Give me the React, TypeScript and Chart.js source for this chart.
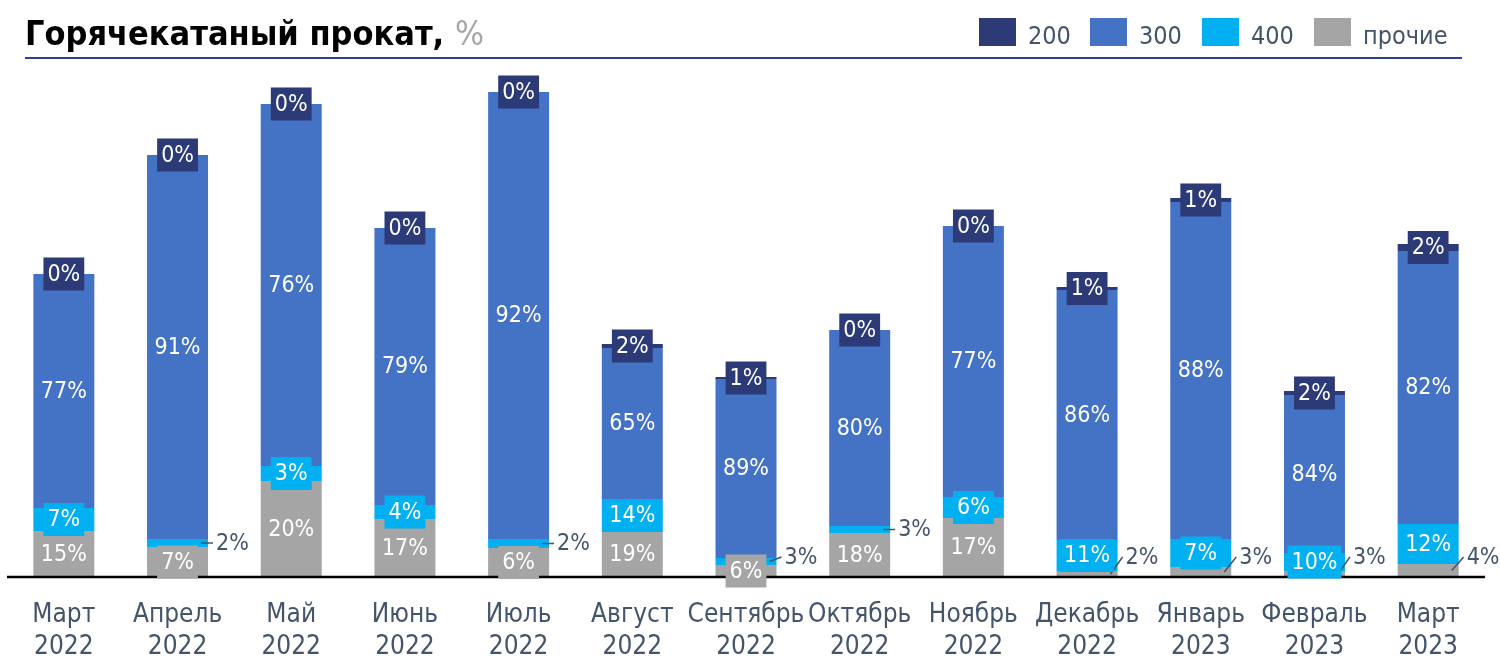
import React, { useEffect, useRef } from 'react';
import { Chart, registerables } from 'chart.js';

Chart.register(...registerables);

// ---- data ----
const months = ['Март', 'Апрель', 'Май', 'Июнь', 'Июль', 'Август', 'Сентябрь', 'Октябрь', 'Ноябрь', 'Декабрь', 'Январь', 'Февраль', 'Март'];
const years = ['2022', '2022', '2022', '2022', '2022', '2022', '2022', '2022', '2022', '2022', '2023', '2023', '2023'];

const seriesNames = ['прочие', '400', '300', '200'];

// stacked volumes (bar heights)
const valOther = [46, 30, 96, 58, 29, 45, 12, 44, 59, 6, 10, 6, 13];
const val400 = [23, 8, 15, 14, 9, 33, 7, 7, 21, 31, 28, 18, 40];
const val300 = [234, 384, 362, 277, 447, 151, 179, 196, 271, 250, 337, 158, 273];
const val200 = [0, 0, 0, 0, 0, 4, 2, 0, 0, 3, 4, 4, 7];

// shares shown in labels, %
const pctOther = [15, 7, 20, 17, 6, 19, 6, 18, 17, 2, 3, 3, 4];
const pct400 = [7, 2, 3, 4, 2, 14, 3, 3, 6, 11, 7, 10, 12];
const pct300 = [77, 91, 76, 79, 92, 65, 89, 80, 77, 86, 88, 84, 82];
const pct200 = [0, 0, 0, 0, 0, 2, 1, 0, 0, 1, 1, 2, 2];

const titleText = 'Горячекатаный прокат, ';
const titleUnit = '%';

// ---- style ----
const FONT = '"DejaVu Sans Condensed", "DejaVu Sans", sans-serif';
const TEXT = '#44546A';
const C200 = '#2C3A78';
const C300 = '#4472C4';
const C400 = '#00B0F0';
const COTHER = '#A5A5A5';

const seriesValues = [valOther, val400, val300, val200];
const seriesPcts = [pctOther, pct400, pct300, pct200];
const seriesColors = [COTHER, C400, C300, C200];

const legendItems = [
  { name: '200', color: C200, x: 979 },
  { name: '300', color: C300, x: 1090 },
  { name: '400', color: C400, x: 1202 },
  { name: 'прочие', color: COTHER, x: 1314 },
];

const labelPlugin = {
  id: 'segLabels',
  afterDatasetsDraw(chart: any) {
    const ctx = chart.ctx;
    const yScale = chart.scales.y;
    const base = yScale.getPixelForValue(0);
    const { left, right } = chart.chartArea;
    ctx.save();
    // axis line
    ctx.strokeStyle = '#000';
    ctx.lineWidth = 2.5;
    ctx.beginPath();
    ctx.moveTo(left, base);
    ctx.lineTo(right, base);
    ctx.stroke();

    ctx.font = `23px ${FONT}`;
    ctx.textBaseline = 'middle';
    chart.data.datasets.forEach((ds: any, di: number) => {
      const meta = chart.getDatasetMeta(di);
      const pcts = seriesPcts[di];
      const isTopSeries = di === 3;
      meta.data.forEach((bar: any, i: number) => {
        const p = bar.getProps(['x', 'y', 'base', 'width'], true);
        const top = Math.min(p.y, p.base);
        const bottom = Math.max(p.y, p.base);
        const h = bottom - top;
        const cy = (top + bottom) / 2;
        const text = pcts[i] + '%';
        const tw = ctx.measureText(text).width;
        const outside = !isTopSeries && pcts[i] <= 4 && h < 14;
        if (outside) {
          const barRight = p.x + p.width / 2;
          const ly = Math.min(cy, base - 20);
          ctx.strokeStyle = TEXT;
          ctx.lineWidth = 1.5;
          ctx.beginPath();
          ctx.moveTo(barRight - 8, cy);
          ctx.lineTo(barRight + 4, ly);
          ctx.stroke();
          ctx.fillStyle = TEXT;
          ctx.textAlign = 'left';
          ctx.fillText(text, barRight + 7, ly + 1);
        } else {
          const bw = tw + 8;
          const bh = 33;
          ctx.fillStyle = seriesColors[di];
          ctx.fillRect(p.x - bw / 2, cy - bh / 2, bw, bh);
          ctx.fillStyle = '#FFFFFF';
          ctx.textAlign = 'center';
          ctx.fillText(text, p.x, cy + 1);
        }
      });
    });
    ctx.restore();
  },
  afterDraw(chart: any) {
    const ctx = chart.ctx;
    ctx.save();
    ctx.textBaseline = 'alphabetic';
    ctx.textAlign = 'left';
    ctx.font = `bold 34px ${FONT}`;
    ctx.fillStyle = '#000000';
    ctx.fillText(titleText, 25, 45);
    const w = ctx.measureText(titleText).width;
    ctx.font = `34px ${FONT}`;
    ctx.fillStyle = '#A6A6A6';
    ctx.fillText(titleUnit, 25 + w, 45);
    // underline
    ctx.fillStyle = '#2F4183';
    ctx.fillRect(25, 57, 1437, 2);
    // legend
    ctx.font = `25px ${FONT}`;
    legendItems.forEach((it) => {
      ctx.fillStyle = it.color;
      ctx.fillRect(it.x, 18, 37, 28);
      ctx.fillStyle = TEXT;
      ctx.fillText(it.name, it.x + 49, 44);
    });
    ctx.restore();
  },
};

export default function App() {
  const ref = useRef<HTMLCanvasElement>(null);
  useEffect(() => {
    const labels = months.map((m, i) => [m, years[i]]);
    const chart = new Chart(ref.current as HTMLCanvasElement, {
      type: 'bar',
      data: {
        labels,
        datasets: seriesNames.map((name, di) => ({
          label: name,
          data: seriesValues[di],
          backgroundColor: seriesColors[di],
          borderColor: 'rgba(255,255,255,0.4)',
          borderWidth: { left: 1, right: 1, top: 0, bottom: 0 },
          borderSkipped: false,
          barPercentage: 0.554,
          categoryPercentage: 1,
        })),
      },
      options: {
        responsive: false,
        maintainAspectRatio: false,
        animation: false,
        layout: { padding: { top: 77, left: 7, right: 15, bottom: 0 } },
        plugins: {
          legend: { display: false },
          tooltip: { enabled: false },
          title: { display: false },
        },
        scales: {
          x: {
            stacked: true,
            grid: { display: false, drawTicks: false },
            border: { display: false },
            ticks: {
              color: TEXT,
              font: { family: FONT, size: 26, lineHeight: 32 / 26 },
              padding: 22,
              maxRotation: 0,
              autoSkip: false,
            },
            afterFit: (s: any) => {
              s.height = 80;
            },
          },
          y: { stacked: true, display: false, min: 0, max: 500 },
        },
      },
      plugins: [labelPlugin],
    } as any);
    return () => chart.destroy();
  }, []);
  return (
    <div style={{ position: 'absolute', left: 0, top: 0, width: 1500, height: 657, background: '#fff' }}>
      <canvas ref={ref} width={1500} height={657} style={{ display: 'block' }} />
    </div>
  );
}
